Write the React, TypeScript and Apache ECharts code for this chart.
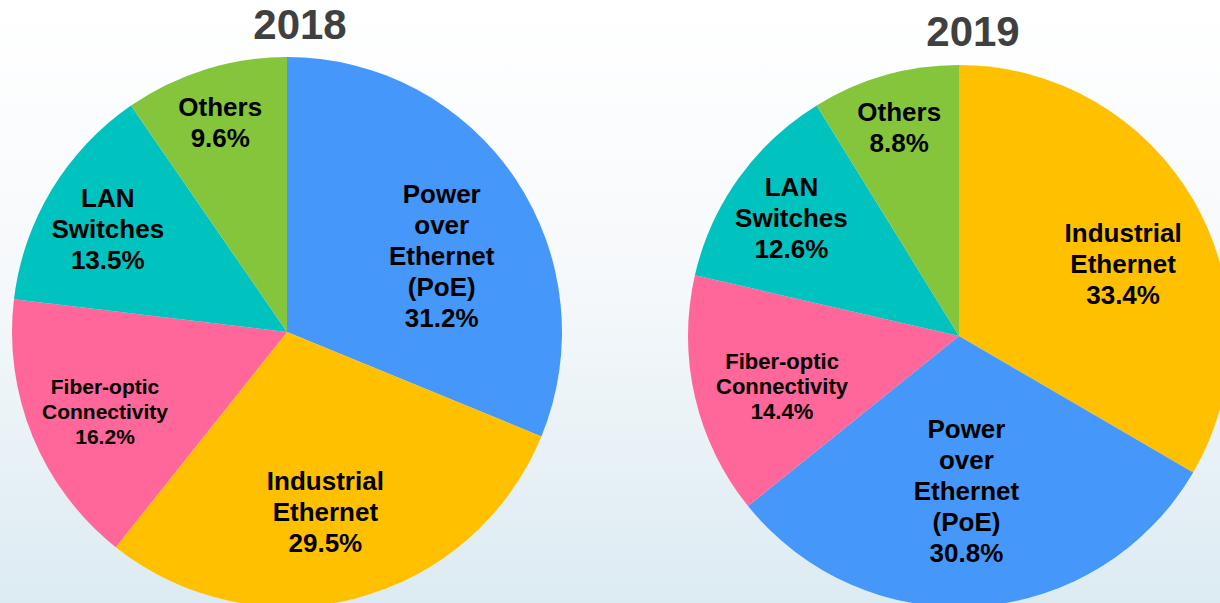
import React, { useEffect, useRef } from "react";
import * as echarts from "echarts";

const years = ["2018", "2019"];

const names2018 = ["Power\nover\nEthernet\n(PoE)", "Industrial\nEthernet", "Fiber-optic\nConnectivity", "LAN\nSwitches", "Others"];
const values2018 = [31.2, 29.5, 16.2, 13.5, 9.6];
const colors2018 = ["#4598FA", "#FFC000", "#FF6699", "#00C2BE", "#84C53C"];

const names2019 = ["Industrial\nEthernet", "Power\nover\nEthernet\n(PoE)", "Fiber-optic\nConnectivity", "LAN\nSwitches", "Others"];
const values2019 = [33.4, 30.8, 14.4, 12.6, 8.8];
const colors2019 = ["#FFC000", "#4598FA", "#FF6699", "#00C2BE", "#84C53C"];

// label nudges from the default inside position (px)
const offsets2018 = [[38, 2], [3, 44], [-52, 26], [-59, -30], [-25, -75]];
const offsets2019 = [[44, -3], [-3, 17], [-42, 19], [-55, -37], [-22, -75]];
const small2018 = [false, false, true, false, false];
const small2019 = [false, false, true, false, false];

const FONT = "Arial, 'Liberation Sans', sans-serif";

function buildData(names: string[], values: number[], colors: string[], small: boolean[], smallSize: number) {
  return names.map((n, i) => ({
    name: n,
    value: values[i],
    itemStyle: { color: colors[i] },
    label: small[i]
      ? { fontSize: smallSize, lineHeight: 25 }
      : { fontSize: 26, lineHeight: 31 },
  }));
}

export default function App() {
  const ref = useRef<HTMLDivElement>(null);
  useEffect(() => {
    document.body.style.margin = "0";
    if (!ref.current) return;
    const chart = echarts.init(ref.current, undefined, { renderer: "svg" });
    const offsets = [offsets2018, offsets2019];
    const labelCommon = {
      show: true,
      position: "inside",
      color: "#000000",
      fontWeight: "bold",
      fontFamily: FONT,
      align: "center",
      formatter: (p: any) => `${p.name}\n${Number(p.value).toFixed(1)}%`,
    };
    chart.setOption({
      animation: false,
      backgroundColor: {
        type: "linear",
        x: 0,
        y: 0,
        x2: 0,
        y2: 1,
        colorStops: [
          { offset: 0, color: "#ffffff" },
          { offset: 0.45, color: "#f6f9fb" },
          { offset: 1, color: "#dcebf2" },
        ],
      },
      title: [
        {
          text: years[0],
          left: 295,
          top: -2,
          textAlign: "center",
          textStyle: { fontSize: 42, fontWeight: "bold", color: "#404040", fontFamily: FONT },
        },
        {
          text: years[1],
          left: 968,
          top: 5,
          textAlign: "center",
          textStyle: { fontSize: 42, fontWeight: "bold", color: "#404040", fontFamily: FONT },
        },
      ],
      series: [
        {
          type: "pie",
          center: [287, 332],
          radius: [0, 275],
          startAngle: 90,
          clockwise: true,
          silent: true,
          label: labelCommon,
          labelLine: { show: false },
          labelLayout: (p: any) => ({ dx: offsets[0][p.dataIndex][0], dy: offsets[0][p.dataIndex][1] }),
          emphasis: { disabled: true },
          data: buildData(names2018, values2018, colors2018, small2018, 21),
        },
        {
          type: "pie",
          center: [959, 336],
          radius: [0, 271],
          startAngle: 90,
          clockwise: true,
          silent: true,
          label: labelCommon,
          labelLine: { show: false },
          labelLayout: (p: any) => ({ dx: offsets[1][p.dataIndex][0], dy: offsets[1][p.dataIndex][1] }),
          emphasis: { disabled: true },
          data: buildData(names2019, values2019, colors2019, small2019, 22),
        },
      ],
    });
    return () => chart.dispose();
  }, []);
  return <div ref={ref} style={{ width: 1220, height: 603 }} />;
}
